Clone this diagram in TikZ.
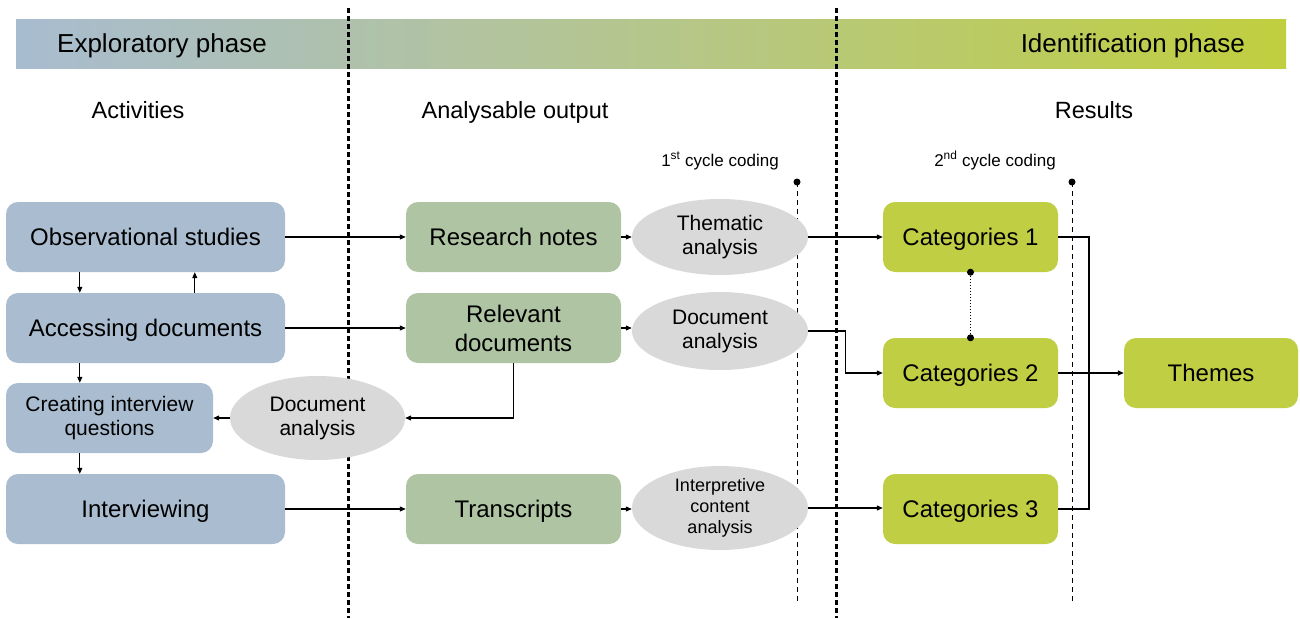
\documentclass[tikz,border=0pt]{standalone}
\usepackage{fontspec}
\setmainfont{Liberation Sans}
\usetikzlibrary{shapes.geometric,arrows.meta,calc}
\definecolor{bluebox}{RGB}{170,189,208}
\definecolor{greenbox}{RGB}{174,196,162}
\definecolor{limebox}{RGB}{192,206,68}
\definecolor{ellgray}{RGB}{217,217,217}
\definecolor{barleft}{RGB}{168,188,208}
\definecolor{barmid}{RGB}{181,198,140}
\definecolor{barright}{RGB}{192,207,62}
\tikzset{
  box/.style={rounded corners=12pt, minimum height=70pt, inner sep=0pt, align=center, font=\fontsize{24}{29}\selectfont},
  one/.style={text height=17pt, text depth=0pt},
  bbox/.style={box, fill=bluebox},
  gbox/.style={box, fill=greenbox},
  lbox/.style={box, fill=limebox},
  ell/.style={ellipse, fill=ellgray, inner sep=0pt, align=center, minimum width=176pt, font=\fontsize{21}{24}\selectfont},
  arr/.style={line width=1.1pt, -{Triangle[length=6pt,width=5pt]}},
  conn/.style={line width=1.1pt},
  phasesep/.style={line width=3pt, dash pattern=on 5pt off 3pt},
  cycsep/.style={line width=1pt, dash pattern=on 5pt off 4pt},
  hdr/.style={font=\fontsize{23.5}{28}\selectfont, text height=17pt, text depth=0pt, inner sep=0pt},
  phase/.style={font=\fontsize{26}{30}\selectfont, text height=19pt, text depth=0pt, inner sep=0pt},
  cyc/.style={font=\fontsize{17}{20}\selectfont, text height=12pt, text depth=0pt, inner sep=0pt},
  dotm/.style={circle, fill=black, inner sep=0pt, minimum size=7pt},
}
\begin{document}
\begin{tikzpicture}[x=1pt,y=-1pt]
\useasboundingbox (0,0) rectangle (1300,618);
% gradient bar
\shade[left color=barleft, right color=barright, middle color=barmid] (16,20) rectangle (1286,68);
\node[phase, anchor=west] (ep) at (57,43) {Exploratory phase};
\node[phase, anchor=east] (ip) at (1245,43) {Identification phase};
% headers
\node[hdr] (h1) at (138,110) {Activities};
\node[hdr] (h2) at (515,110) {Analysable output};
\node[hdr] (h3) at (1094,110) {Results};
\node[cyc] (c1) at (720,160) {1\textsuperscript{st} cycle coding};
\node[cyc] (c2) at (995,160) {2\textsuperscript{nd} cycle coding};
% phase separators
\coordinate (p1t) at (348,8); \coordinate (p1b) at (348,618);
\coordinate (p2t) at (836,8); \coordinate (p2b) at (836,618);
\draw[phasesep] (p1t) -- (p1b);
\draw[phasesep] (p2t) -- (p2b);
% cycle separators
\node[dotm] (d1t) at (797,182) {};
\coordinate (d1b) at (797,602);
\node[dotm] (d2t) at (1072,182) {};
\coordinate (d2b) at (1072,602);
\draw[cycsep] (d1t.center) -- (d1b);
\draw[cycsep] (d2t.center) -- (d2b);
% activities
\node[bbox, one, minimum width=279pt] (obs) at (145.5,237) {Observational studies};
\node[bbox, one, minimum width=279pt] (ad) at (145.5,328) {Accessing documents};
\node[bbox, minimum width=207pt, font=\fontsize{21}{24}\selectfont] (ciq) at (109.5,418) {Creating interview\\questions};
\node[bbox, one, minimum width=279pt] (iv) at (145.5,509) {Interviewing};
% outputs
\node[gbox, one, minimum width=215pt] (rn) at (513.5,237) {Research notes};
\node[gbox, minimum width=215pt] (rd) at (513.5,328) {Relevant\\documents};
\node[gbox, one, minimum width=215pt] (tr) at (513.5,509) {Transcripts};
% ellipses
\node[ell, minimum height=76pt] (ta) at (720,237) {Thematic\\analysis};
\node[ell, minimum height=78pt] (da1) at (720,331) {Document\\analysis};
\node[ell, minimum height=84pt, font=\fontsize{18}{21}\selectfont] (ica) at (720,508) {Interpretive\\content\\analysis};
\node[ell, minimum width=175pt, minimum height=84pt] (da2) at (317.5,418) {Document\\analysis};
% results
\node[lbox, one, minimum width=175pt] (cat1) at (970.5,237) {Categories 1};
\node[lbox, one, minimum width=175pt] (cat2) at (970.5,373) {Categories 2};
\node[lbox, one, minimum width=175pt] (cat3) at (970.5,509) {Categories 3};
\node[lbox, one, minimum width=174pt] (th) at (1211,373) {Themes};
% connectors activities
\draw[arr] ($(obs.south west)+(74,0)$) -- ($(ad.north west)+(74,0)$);
\draw[arr] ($(ad.north west)+(189,0)$) -- ($(obs.south west)+(189,0)$);
\draw[arr] ($(ad.south west)+(74,0)$) -- ($(ciq.north west)+(74,0)$);
\draw[arr] ($(ciq.south west)+(74,0)$) -- ($(iv.north west)+(74,0)$);
\draw[arr] (obs.east) -- (rn.west);
\draw[arr] (ad.east) -- (rd.west);
\draw[arr] (iv.east) -- (tr.west);
\draw[arr] (rd.south) |- (da2.east);
\draw[arr] (da2.west) -- (ciq.east);
% connectors outputs
\draw[arr] (rn.east) -- (ta.west);
\draw[arr] (rd.east) -- (rd.east -| da1.west);
\draw[arr] (tr.east) -- (tr.east -| ica.west);
\draw[arr] (ta.east) -- (cat1.west);
\coordinate (m) at (845.5,350);
\draw[arr] (da1.east) -| (m) |- (cat2.west);
\draw[arr] (ica.east) -- (ica.east -| cat3.west);
% results connectors
\coordinate (bx) at (1089,373);
\draw[conn] (cat1.east) -| (bx) |- (cat3.east);
\draw[arr, line width=1.6pt] (cat2.east) -- (th.west);
\node[dotm] (k1) at (cat1.south) {};
\node[dotm] (k2) at (cat2.north) {};
\draw[line width=1pt, dotted] (k1) -- (k2);
\end{tikzpicture}
\end{document}
